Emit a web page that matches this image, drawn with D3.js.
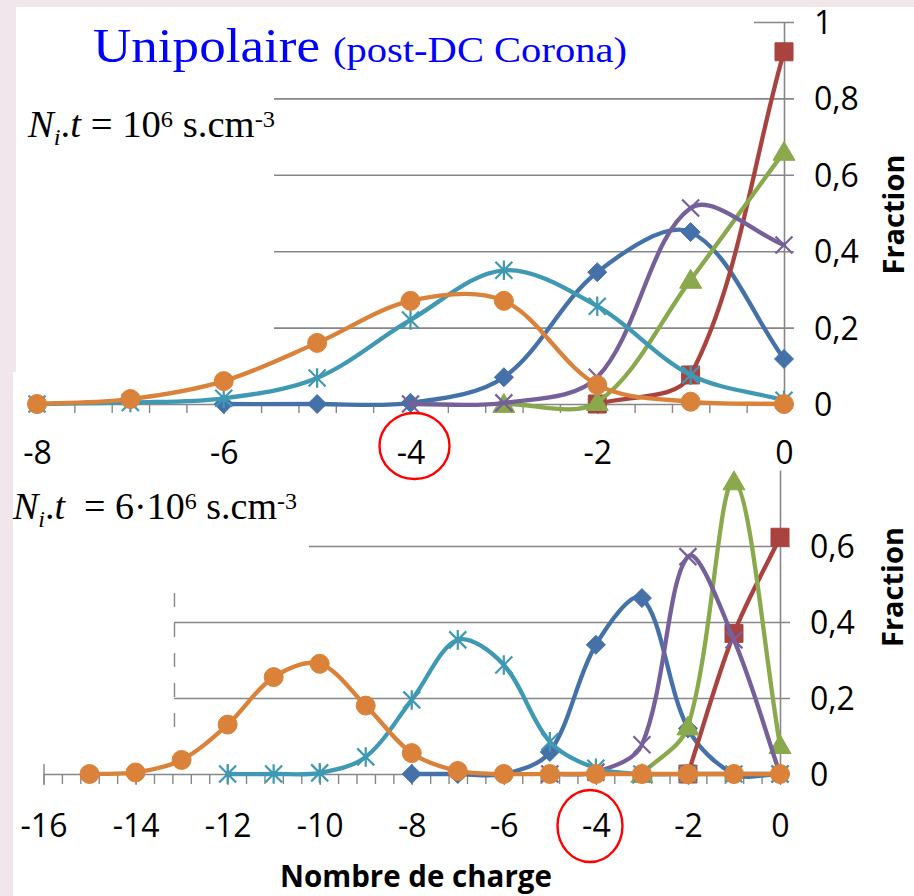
<!DOCTYPE html>
<html>
<head>
<meta charset="utf-8">
<script src="https://cdn.jsdelivr.net/npm/d3@7"></script>
<style>
  html, body { margin: 0; padding: 0; background: #f0e6eb; }
  svg { display: block; }
</style>
</head>
<body>
<svg id="chart" width="914" height="896"></svg>
<script>
// ---- Upper panel: N_i.t = 1e6 s.cm-3 (charge number -> fraction) ----
const topQBlue   = [-6, -5, -4, -3, -2, -1, 0];
const topBlue    = [0, 0, 0.003, 0.07, 0.345, 0.45, 0.118];
const topQRed    = [-2, -1, 0];
const topRed     = [0, 0.076, 0.922];
const topQGreen  = [-3, -2, -1, 0];
const topGreen   = [0, 0.005, 0.325, 0.66];
const topQPurple = [-4, -3, -2, -1, 0];
const topPurple  = [0, 0.003, 0.07, 0.513, 0.416];
const topQTeal   = [-8, -7, -6, -5, -4, -3, -2, -1, 0];
const topTeal    = [0, 0.004, 0.015, 0.068, 0.22, 0.35, 0.256, 0.076, 0.01];
const topQOrange = [-8, -7, -6, -5, -4, -3, -2, -1, 0];
const topOrange  = [0, 0.013, 0.06, 0.16, 0.27, 0.27, 0.05, 0.006, 0];

const topXTicks  = [-8, -6, -4, -2, 0];
const topXLabels = ["-8", "-6", "-4", "-2", "0"];
const topYTicks  = [0, 0.2, 0.4, 0.6, 0.8, 1];
const topYLabels = ["0", "0,2", "0,4", "0,6", "0,8", "1"];

// ---- Lower panel: N_i.t = 6e6 s.cm-3 ----
const botQBlue   = [-8, -7, -6, -5, -4, -3, -2, -1, 0];
const botBlue    = [0, 0, 0, 0.058, 0.34, 0.463, 0.12, 0, 0];
const botQRed    = [-2, -1, 0];
const botRed     = [0, 0.37, 0.623];
const botQGreen  = [-3, -2, -1, 0];
const botGreen   = [0, 0.125, 0.77, 0.076];
const botQPurple = [-5, -4, -3, -2, -1, 0];
const botPurple  = [0, 0.005, 0.077, 0.572, 0.353, 0];
const botQTeal   = [-12, -11, -10, -9, -8, -7, -6, -5, -4, -3, -2, -1, 0];
const botTeal    = [0, 0, 0.003, 0.045, 0.195, 0.353, 0.287, 0.085, 0.015, 0, 0, 0, 0];
const botQOrange = [-15, -14, -13, -12, -11, -10, -9, -8, -7, -6, -5, -4, -3, -2, -1, 0];
const botOrange  = [0, 0.004, 0.037, 0.13, 0.255, 0.29, 0.18, 0.055, 0.008, 0, 0, 0, 0, 0, 0, 0];

const botXTicks  = [-16, -14, -12, -10, -8, -6, -4, -2, 0];
const botXLabels = ["-16", "-14", "-12", "-10", "-8", "-6", "-4", "-2", "0"];
const botYTicks  = [0, 0.2, 0.4, 0.6];
const botYLabels = ["0", "0,2", "0,4", "0,6"];

// ---- styling ----
const GRID = "#878787";
const COLORS = { blue: "#4471A8", red: "#A9433F", green: "#8AA84C",
                 purple: "#75609A", teal: "#3F99B3", orange: "#DA8239" };
const SANS = "'Open Sans', 'Noto Sans', sans-serif";
const SERIF = "'Liberation Serif', 'DejaVu Serif', serif";

const svg = d3.select("#chart");

// slide background and white content area
svg.append("rect").attr("width", 914).attr("height", 896).attr("fill", "#f0e6eb");
svg.append("rect").attr("x", 16).attr("y", 7).attr("width", 898).attr("height", 889).attr("fill", "#fff");
svg.append("rect").attr("x", 13).attr("y", 372).attr("width", 901).attr("height", 524).attr("fill", "#fff");

// marker outlines centred on (0,0)
const markerPath = {
  diamond:  s => `M0,${-s}L${s},0L0,${s}L${-s},0Z`,
  square:   s => `M${-s},${-s}H${s}V${s}H${-s}Z`,
  triangle: s => `M0,${-s}L${s * 1.05},${s * 0.8}L${-s * 1.05},${s * 0.8}Z`,
  cross:    s => `M${-s},${-s}L${s},${s}M${-s},${s}L${s},${-s}`,
  star:     s => `M${-s},${-s}L${s},${s}M${-s},${s}L${s},${-s}M0,${-s * 1.15}V${s * 1.15}`,
  circle:   s => d3.symbol(d3.symbolCircle, Math.PI * s * s)()
};
const markerSize = { diamond: 9.5, square: 9, triangle: 10.5, cross: 8.5, star: 8.5, circle: 9.5 };
const filled = { diamond: true, square: true, triangle: true, circle: true, cross: false, star: false };

// smoothed line through pixel points: cubic Bezier segments whose control
// handles follow the neighbour chord, weighted by adjacent segment lengths
function smoothPath(pts) {
  const p = d3.path();
  const n = pts.length;
  const dist = (a, b) => Math.hypot(b[0] - a[0], b[1] - a[1]);
  p.moveTo(pts[0][0], pts[0][1]);
  for (let i = 0; i < n - 1; i++) {
    const p0 = pts[Math.max(i - 1, 0)], p1 = pts[i], p2 = pts[i + 1], p3 = pts[Math.min(i + 2, n - 1)];
    const d01 = dist(p0, p1), d12 = dist(p1, p2), d23 = dist(p2, p3);
    const w1 = d01 + d12 > 0 ? d12 / (d01 + d12) / 3 : 0;
    const w2 = d12 + d23 > 0 ? d12 / (d12 + d23) / 3 : 0;
    p.bezierCurveTo(
      p1[0] + (p2[0] - p0[0]) * w1, p1[1] + (p2[1] - p0[1]) * w1,
      p2[0] - (p3[0] - p1[0]) * w2, p2[1] - (p3[1] - p1[1]) * w2,
      p2[0], p2[1]);
  }
  return p.toString();
}

function drawPanel(p) {
  const x = d3.scaleLinear().domain(p.xDomain).range(p.xRange);
  const y = d3.scaleLinear().domain(p.yDomain).range(p.yRange);
  const g = svg.append("g");
  const xL = p.xRange[0], xR = p.xRange[1];

  // gridlines + right-hand value labels
  const yAxis = d3.axisRight(y).tickValues(p.yTicks)
    .tickFormat((d, i) => p.yLabels[i]).tickSizeOuter(0);
  const ya = g.append("g").attr("transform", `translate(${xR},0)`).call(yAxis)
    .attr("font-family", SANS).attr("font-size", 32);
  ya.select(".domain").remove();
  ya.selectAll(".tick line")
    .attr("x1", d => d === 0 ? 0 : xL - xR).attr("x2", 10)
    .attr("stroke", GRID).attr("stroke-width", 1.6);
  ya.selectAll(".tick text")
    .attr("x", p.yLabelOffset).attr("dy", null).attr("y", 11.5)
    .attr("fill", "#000").attr("text-anchor", "start");

  // white boxes of the overlapping text frames hide part of the grid
  p.masks.forEach(m => g.append("rect").attr("x", m[0]).attr("y", m[1])
    .attr("width", m[2]).attr("height", m[3]).attr("fill", "#fff"));
  if (p.dashFrag) {
    g.append("line").attr("x1", p.dashFrag[0]).attr("x2", p.dashFrag[0])
      .attr("y1", p.dashFrag[1]).attr("y2", p.dashFrag[2])
      .attr("stroke", GRID).attr("stroke-width", 1.4).attr("stroke-dasharray", "14,16");
  }

  // vertical value axis line
  const yLine = d3.axisRight(y).tickValues([]).tickSizeOuter(0);
  g.append("g").attr("transform", `translate(${xR},0)`).call(yLine)
    .select(".domain").attr("stroke", GRID).attr("stroke-width", 1.6);

  // charge axis: minor ticks every 0.4, crossing major ticks every 2
  const minor = d3.range(0, Math.round((p.xDomain[1] - p.xDomain[0]) / 0.4) + 1)
    .map(i => p.xDomain[0] + i * 0.4);
  const xMinor = d3.axisBottom(x).tickValues(minor).tickFormat("").tickSize(p.minorLen).tickSizeOuter(0);
  const xa = g.append("g").attr("transform", `translate(0,${p.yRange[0]})`).call(xMinor);
  xa.select(".domain").attr("stroke", GRID).attr("stroke-width", 1.6);
  xa.selectAll(".tick line").attr("stroke", GRID).attr("stroke-width", 1.4);

  const xMajor = d3.axisBottom(x).tickValues(p.xTicks)
    .tickFormat((d, i) => p.xLabels[i]).tickSizeOuter(0);
  const xm = g.append("g").attr("transform", `translate(0,${p.yRange[0]})`).call(xMajor)
    .attr("font-family", SANS).attr("font-size", 32);
  xm.select(".domain").remove();
  xm.selectAll(".tick line").attr("y1", -p.minorLen).attr("y2", p.minorLen + 1)
    .attr("stroke", GRID).attr("stroke-width", 1.4);
  xm.selectAll(".tick text").attr("y", p.xLabelDrop).attr("dy", null).attr("fill", "#000");

  // series: line then markers, later series drawn on top
  p.series.forEach(s => {
    const pts = s.q.map((q, i) => ({ q, v: s.v[i] }));
    const c = COLORS[s.color];
    g.append("path").attr("d", smoothPath(pts.map(d => [x(d.q), y(d.v)])))
      .attr("fill", "none").attr("stroke", c).attr("stroke-width", 4.3)
      .attr("stroke-linejoin", "round").attr("stroke-linecap", "round");
    g.append("g").selectAll("path").data(pts).join("path")
      .attr("transform", d => `translate(${x(d.q)},${y(d.v)})`)
      .attr("d", markerPath[s.marker](markerSize[s.marker]))
      .attr("fill", filled[s.marker] ? c : "none")
      .attr("stroke", c).attr("stroke-width", filled[s.marker] ? 1 : 2.2);
  });
  return { x, y };
}

drawPanel({
  xDomain: [-8, 0], xRange: [37, 784], yDomain: [0, 1], yRange: [404, 22],
  xTicks: topXTicks, xLabels: topXLabels, yTicks: topYTicks, yLabels: topYLabels,
  yLabelOffset: 30, xLabelDrop: 60, minorLen: 9,
  masks: [[16, 7, 738, 60], [16, 67, 258, 298]],
  series: [
    { q: topQBlue, v: topBlue, color: "blue", marker: "diamond" },
    { q: topQRed, v: topRed, color: "red", marker: "square" },
    { q: topQGreen, v: topGreen, color: "green", marker: "triangle" },
    { q: topQPurple, v: topPurple, color: "purple", marker: "cross" },
    { q: topQTeal, v: topTeal, color: "teal", marker: "star" },
    { q: topQOrange, v: topOrange, color: "orange", marker: "circle" }
  ]
});

drawPanel({
  xDomain: [-16, 0], xRange: [43.5, 780], yDomain: [0, 0.8], yRange: [774, 470],
  xTicks: botXTicks, xLabels: botXLabels, yTicks: botYTicks, yLabels: botYLabels,
  yLabelOffset: 30, xLabelDrop: 63, minorLen: 10,
  masks: [[13, 480, 296, 80], [13, 560, 161, 175]],
  dashFrag: [174.5, 593, 728],
  series: [
    { q: botQBlue, v: botBlue, color: "blue", marker: "diamond" },
    { q: botQRed, v: botRed, color: "red", marker: "square" },
    { q: botQGreen, v: botGreen, color: "green", marker: "triangle" },
    { q: botQPurple, v: botPurple, color: "purple", marker: "cross" },
    { q: botQTeal, v: botTeal, color: "teal", marker: "star" },
    { q: botQOrange, v: botOrange, color: "orange", marker: "circle" }
  ]
});

// stretch a text element horizontally so that it spans a given width from x0
function fitWidth(sel, x0, width) {
  const bb = sel.node().getBBox();
  const k = width / bb.width;
  sel.attr("transform", `translate(${x0},0) scale(${k},1) translate(${-bb.x},0)`);
}

// title
const t1 = svg.append("text").attr("x", 93).attr("y", 62)
  .attr("font-family", SERIF).attr("font-size", 48).attr("fill", "#0000ff").text("Unipolaire");
fitWidth(t1, 93, 227);
const t2 = svg.append("text").attr("x", 333).attr("y", 62)
  .attr("font-family", SERIF).attr("font-size", 35).attr("fill", "#0000ff").text("(post-DC Corona)");
fitWidth(t2, 333, 294);

// N_i.t annotations
function ntLabel(x0, yBase, width, parts) {
  const t = svg.append("text").attr("x", x0).attr("y", yBase)
    .attr("font-family", SERIF).attr("font-size", 38).attr("fill", "#000")
    .style("white-space", "pre");
  let shift = 0;
  parts.forEach(pt => {
    const target = pt.sub ? 8 : pt.sup ? -10 : 0;
    const sp = t.append("tspan").attr("dy", target - shift).text(pt.t);
    shift = target;
    if (pt.it) sp.attr("font-style", "italic");
    if (pt.sub || pt.sup) sp.attr("font-size", 24);
  });
  fitWidth(t, x0, width);
}
ntLabel(27, 137, 248, [
  { t: "N", it: 1 }, { t: "i", it: 1, sub: 1 }, { t: "." }, { t: "t", it: 1 },
  { t: " = 10" }, { t: "6", sup: 1 }, { t: " s.cm" }, { t: "-3", sup: 1 }
]);
ntLabel(12, 519, 285, [
  { t: "N", it: 1 }, { t: "i", it: 1, sub: 1 }, { t: "." }, { t: "t", it: 1 },
  { t: "  = 6\u00b710" }, { t: "6", sup: 1 }, { t: " s.cm" }, { t: "-3", sup: 1 }
]);

// axis titles
const xTitle = svg.append("text").attr("y", 887)
  .attr("font-family", SANS).attr("font-weight", 700).attr("font-size", 31)
  .attr("fill", "#000").text("Nombre de charge");
fitWidth(xTitle, 280, 272);

[[904, 214.5], [903, 587]].forEach(([fx, fy]) => {
  svg.append("text").attr("transform", `translate(${fx},${fy}) rotate(-90)`)
    .attr("text-anchor", "middle")
    .attr("font-family", SANS).attr("font-weight", 700).attr("font-size", 29)
    .attr("fill", "#000").text("Fraction");
});

// red rings around the -4 charge labels
[[414.5, 446, 35, 33], [590, 826, 32.5, 36]].forEach(([cx, cy, rx, ry]) => {
  svg.append("ellipse").attr("cx", cx).attr("cy", cy).attr("rx", rx).attr("ry", ry)
    .attr("fill", "none").attr("stroke", "#ff0000").attr("stroke-width", 2.4);
});
</script>
</body>
</html>
